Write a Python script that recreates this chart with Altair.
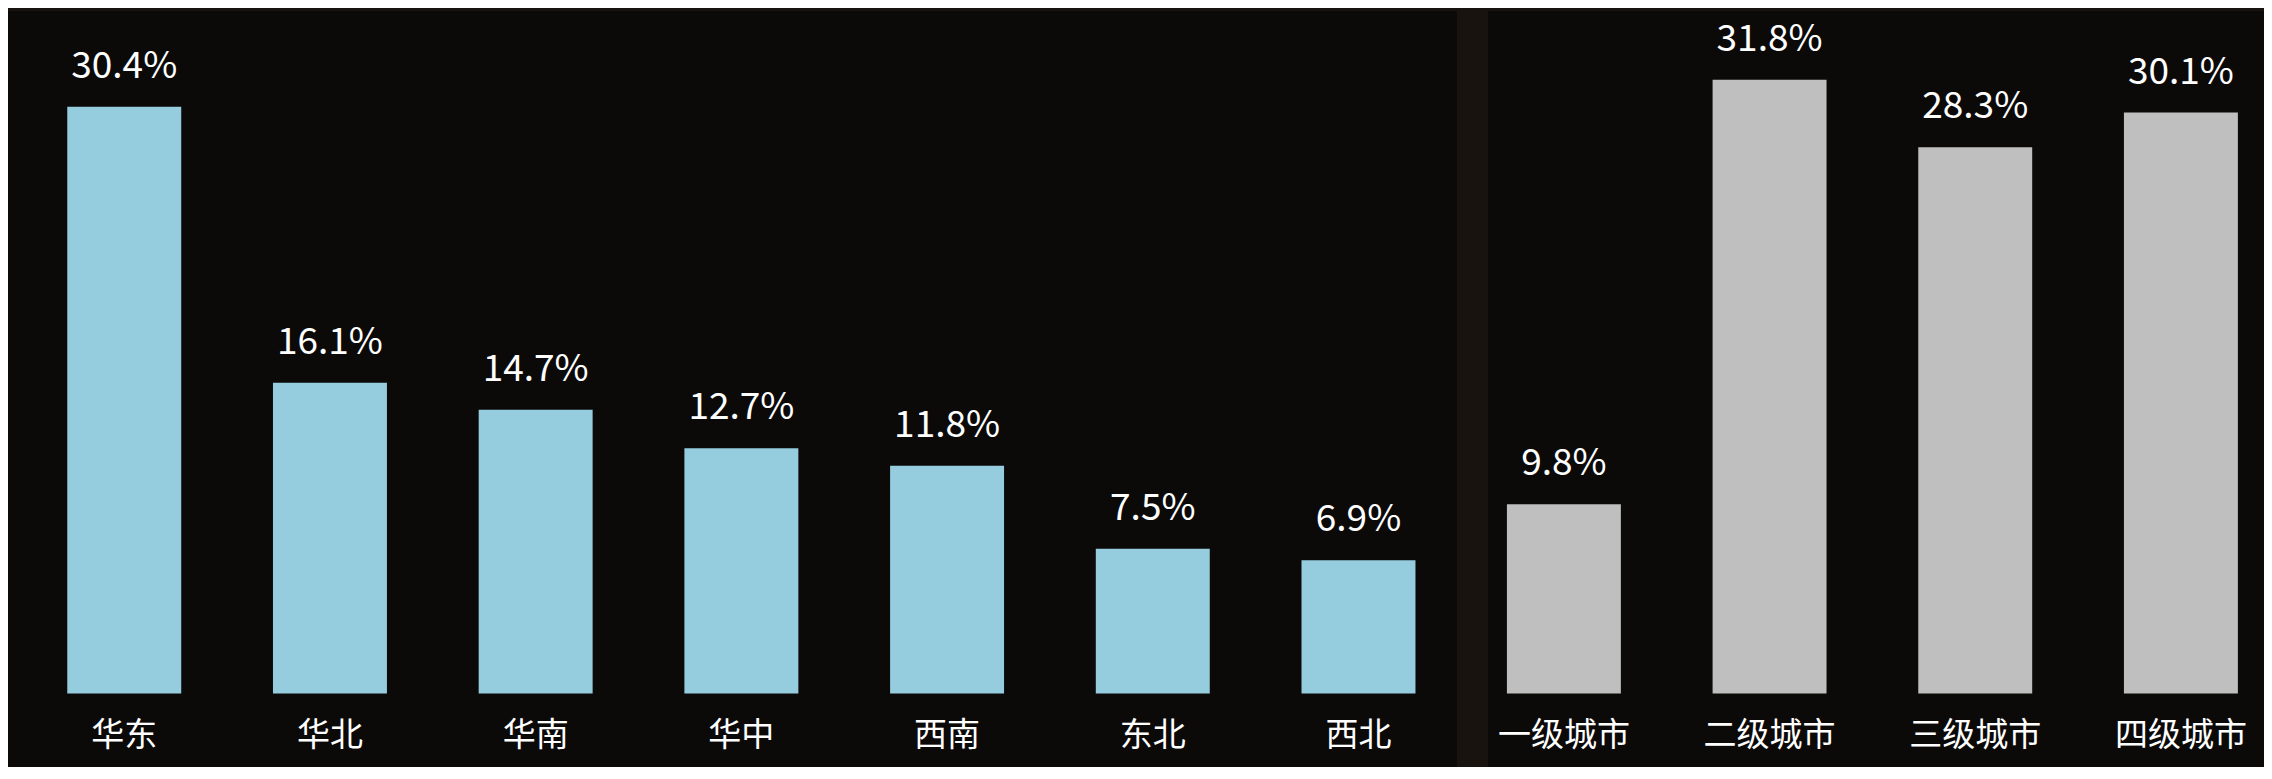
import altair as alt
import pandas as pd

regions = ["华东", "华北", "华南", "华中", "西南", "东北", "西北"]
region_vals = [30.4, 16.1, 14.7, 12.7, 11.8, 7.5, 6.9]

tiers = ["一级城市", "二级城市", "三级城市", "四级城市"]
tier_vals = [9.8, 31.8, 28.3, 30.1]

FONT = "Noto Sans CJK SC"
Y_DOMAIN = [-3.808, 35.36]


def panel(cats, vals, color, width, pad_outer, align):
    df = pd.DataFrame({"cat": cats, "v": vals})
    x = alt.X(
        "cat:N",
        sort=cats,
        scale=alt.Scale(paddingInner=0.446, paddingOuter=pad_outer, align=align),
        axis=None,
    )
    yscale = alt.Scale(domain=Y_DOMAIN, nice=False, zero=False)
    base = alt.Chart(df).transform_calculate(
        label="format(datum.v, '.1f') + '%'"
    )
    bars = base.mark_bar(color=color).encode(
        x=x,
        y=alt.Y("v:Q", scale=yscale, axis=None),
        y2=alt.datum(0),
    )
    values = base.mark_text(
        baseline="alphabetic", dy=-29, fontSize=37, font=FONT, color="#ffffff"
    ).encode(x=x, y=alt.Y("v:Q", scale=yscale, axis=None), text="label:N")
    cat_labels = base.mark_text(
        baseline="middle", dy=42, fontSize=33, font=FONT, color="#ffffff"
    ).encode(x=x, y=alt.datum(0, scale=yscale), text="cat:N")
    return alt.layer(bars, values, cat_labels).properties(width=width, height=756)


left = panel(regions, region_vals, "#95CDDF", 1449, 0.245, 0.588)
right = panel(tiers, tier_vals, "#BFBFBF", 776, 0.1095, 0.42)

chart = (
    alt.hconcat(left, right, spacing=31)
    .properties(
        background="#18130e",
        padding={"left": 0, "top": 3, "right": 0, "bottom": 0},
    )
    .configure_view(stroke=None, fill="#0b0a09")
)

chart.save("out.html", embed_options={"renderer": "svg", "actions": False})
